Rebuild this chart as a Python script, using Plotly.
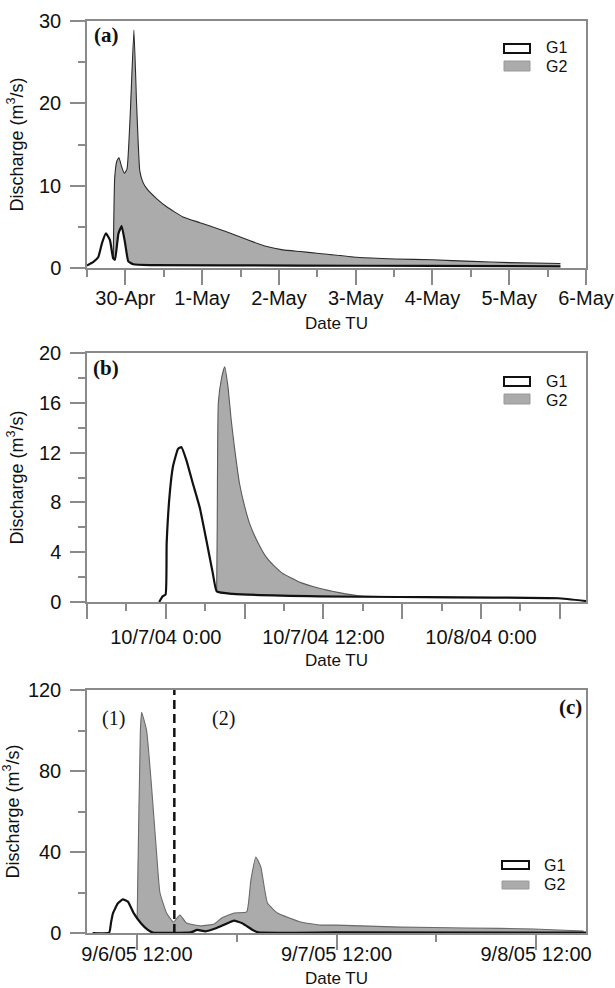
import plotly.graph_objects as go

# ---------------- data ----------------
# Panel (a)
a_g1_time = ["2004-04-29 12:00", "2004-04-29 14:00", "2004-04-29 15:30", "2004-04-29 16:40",
             "2004-04-29 17:55", "2004-04-29 19:10", "2004-04-29 20:10", "2004-04-29 20:45",
             "2004-04-29 21:50", "2004-04-29 22:50", "2004-04-29 23:55", "2004-04-30 00:55",
             "2004-04-30 02:30", "2004-04-30 08:00", "2004-05-02 06:00", "2004-05-04 00:00",
             "2004-05-05 16:00"]
a_g1_q = [0.3, 0.75, 1.3, 3.0, 4.2, 3.4, 1.2, 1.0, 4.2, 5.1, 3.0, 0.8, 0.45, 0.35, 0.3, 0.25, 0.2]

a_g2_time = ["2004-04-29 20:10", "2004-04-29 20:40", "2004-04-29 21:20", "2004-04-29 22:00",
             "2004-04-29 22:40", "2004-04-29 23:40", "2004-04-30 00:30", "2004-04-30 01:30",
             "2004-04-30 02:40", "2004-04-30 03:30", "2004-04-30 04:30", "2004-04-30 05:30",
             "2004-04-30 06:45", "2004-04-30 09:50", "2004-04-30 13:00", "2004-04-30 18:00",
             "2004-04-30 23:20", "2004-05-01 04:40", "2004-05-01 09:40", "2004-05-01 15:00",
             "2004-05-01 20:15", "2004-05-02 01:15", "2004-05-02 06:40", "2004-05-02 11:50",
             "2004-05-03 00:20", "2004-05-03 12:15", "2004-05-04 00:00", "2004-05-04 12:20",
             "2004-05-05 00:10", "2004-05-05 16:00"]
a_g2_q = [0, 11, 13.0, 13.4, 12.5, 11.5, 12.0, 18.5, 28.9, 20.0, 11.8, 10.4, 9.6, 8.4, 7.4, 6.2,
          5.5, 4.8, 4.1, 3.3, 2.6, 2.2, 2.0, 1.8, 1.3, 1.1, 1.0, 0.8, 0.65, 0.55]

# Panel (b)
b_g1_time = ["2004-10-06 23:30", "2004-10-06 23:45", "2004-10-06 23:59", "2004-10-07 00:04",
             "2004-10-07 00:18", "2004-10-07 00:33", "2004-10-07 00:56", "2004-10-07 01:11",
             "2004-10-07 01:34", "2004-10-07 02:04", "2004-10-07 02:35", "2004-10-07 03:05",
             "2004-10-07 03:35", "2004-10-07 03:53", "2004-10-07 05:05", "2004-10-07 11:40",
             "2004-10-07 17:45", "2004-10-08 05:50", "2004-10-08 08:00"]
b_g1_q = [0, 0.45, 0.6, 4.7, 8.7, 10.9, 12.3, 12.45, 11.4, 9.5, 7.6, 5.0, 2.3, 0.85, 0.65, 0.45,
          0.4, 0.3, 0.08]

b_g2_time = ["2004-10-07 03:52", "2004-10-07 03:55", "2004-10-07 04:00", "2004-10-07 04:15",
             "2004-10-07 04:29", "2004-10-07 04:44", "2004-10-07 04:59", "2004-10-07 05:14",
             "2004-10-07 05:37", "2004-10-07 06:00", "2004-10-07 06:23", "2004-10-07 07:00",
             "2004-10-07 07:39", "2004-10-07 08:15", "2004-10-07 08:54", "2004-10-07 10:10",
             "2004-10-07 11:41", "2004-10-07 13:12", "2004-10-07 14:43", "2004-10-07 17:45",
             "2004-10-08 05:50", "2004-10-08 08:00"]
b_g2_q = [0, 6.0, 16.0, 18.0, 18.9, 17.3, 14.6, 12.4, 9.5, 7.7, 6.3, 4.8, 3.6, 2.9, 2.3, 1.6,
          1.1, 0.75, 0.5, 0.42, 0.3, 0.08]

# Panel (c)
c_g1_time = ["2005-09-06 06:40", "2005-09-06 08:40", "2005-09-06 08:53", "2005-09-06 09:07",
             "2005-09-06 09:43", "2005-09-06 10:19", "2005-09-06 10:55", "2005-09-06 11:38",
             "2005-09-06 12:29", "2005-09-06 13:19", "2005-09-06 13:55", "2005-09-06 18:30",
             "2005-09-06 19:15", "2005-09-06 20:15", "2005-09-06 21:30", "2005-09-06 22:40",
             "2005-09-06 23:40", "2005-09-07 00:40", "2005-09-07 01:55", "2005-09-07 02:35",
             "2005-09-07 12:00", "2005-09-08 18:00"]
c_g1_q = [0, 0.2, 5.0, 9.7, 14.7, 16.6, 15.5, 9.7, 4.8, 1.5, 0.2, 0.3, 1.5, 0.8, 2.3, 4.4, 6.1,
          4.8, 1.5, 0.3, 0.3, 0.2]

c_g2_time = ["2005-09-06 12:00", "2005-09-06 12:05", "2005-09-06 12:25", "2005-09-06 12:34",
             "2005-09-06 13:10", "2005-09-06 13:46", "2005-09-06 14:22", "2005-09-06 14:46",
             "2005-09-06 15:34", "2005-09-06 16:24", "2005-09-06 17:10", "2005-09-06 17:58",
             "2005-09-06 19:42", "2005-09-06 21:18", "2005-09-06 22:12", "2005-09-06 23:42",
             "2005-09-07 01:12", "2005-09-07 01:42", "2005-09-07 02:18", "2005-09-07 02:54",
             "2005-09-07 03:42", "2005-09-07 04:54", "2005-09-07 07:42", "2005-09-07 10:06",
             "2005-09-07 12:00", "2005-09-07 19:42", "2005-09-08 03:42", "2005-09-08 11:42",
             "2005-09-08 17:42"]
c_g2_q = [0, 20, 100, 109, 100, 72, 39.5, 20, 9.9, 5.4, 8.9, 4.9, 3.5, 4.5, 7.4, 9.9, 10.4, 26,
          37.5, 32.6, 14.8, 9.9, 5.4, 3.9, 3.9, 2.9, 2.5, 2.0, 1.0]

c_split_time = "2005-09-06 16:30"   # dashed separator between events (1) and (2)

series_names = ["G1", "G2"]
panel_labels = ["(a)", "(b)", "(c)"]
event_labels = ["(1)", "(2)"]
y_title = "Discharge (m<sup>3</sup>/s)"
x_title = "Date TU"

# ---------------- styling ----------------
W, H = 615, 988
GRAY_FILL = "#ababab"
AX_COL = "#8a8a8a"
SANS = "Arial, Liberation Sans, Helvetica, sans-serif"
SERIF = "Times New Roman, Liberation Serif, serif"


def px(xp):
    return xp / W


def py(yp):
    return 1 - yp / H


X_LEFT, X_RIGHT = 87, 586
panels = [(21, 268), (353, 602), (690, 933)]

fig = go.Figure()

data = [
    (a_g1_time, a_g1_q, a_g2_time, a_g2_q, "#2a2a2a"),
    (b_g1_time, b_g1_q, b_g2_time, b_g2_q, "#5a5a5a"),
    (c_g1_time, c_g1_q, c_g2_time, c_g2_q, "#6a6a6a"),
]
for i, (t1, q1, t2, q2, g2line) in enumerate(data):
    sfx = "" if i == 0 else str(i + 1)
    fig.add_trace(go.Scatter(x=t2, y=q2, mode="lines", name=series_names[1], fill="tozeroy",
                             fillcolor=GRAY_FILL, line=dict(color=g2line, width=1.1, shape="spline",
                                                            smoothing=0.4),
                             xaxis="x" + sfx, yaxis="y" + sfx, showlegend=False))
    fig.add_trace(go.Scatter(x=t1, y=q1, mode="lines", name=series_names[0], fill="tozeroy",
                             fillcolor="white", line=dict(color="#111", width=2.2, shape="spline",
                                                          smoothing=0.4),
                             xaxis="x" + sfx, yaxis="y" + sfx, showlegend=False))

common = dict(showline=True, linecolor=AX_COL, linewidth=1.5, mirror=True, ticks="outside",
              tickcolor=AX_COL, tickwidth=1.5, ticklen=15, showgrid=False, zeroline=False,
              automargin=False, tickfont=dict(family=SANS, size=20, color="#111"))
minor = dict(ticks="outside", ticklen=7, tickcolor=AX_COL, tickwidth=1.5, showgrid=False)

layout = dict(template="none", width=W, height=H, margin=dict(l=0, r=0, t=0, b=0, pad=0),
              paper_bgcolor="white", plot_bgcolor="white", showlegend=False)

xcfg = [
    dict(range=["2004-04-29 12:00", "2004-05-06 00:00"], tick0="2004-04-30", dtick=86400000,
         tickformat="%-d-%b", minor=dict(minor, dtick=43200000, tick0="2004-04-29 12:00"),
         ticklabelstandoff=-4),
    dict(range=["2004-10-06 18:00", "2004-10-08 08:00"], tick0="2004-10-07", dtick=21600000,
         ticklabelstep=2, tickformat="%-m/%-d/%y %-H:%M",
         minor=dict(minor, dtick=10800000, tick0="2004-10-06 18:00"),
         ticklabelstandoff=1),
    dict(range=["2005-09-06 06:00", "2005-09-08 18:00"], tick0="2005-09-06 12:00", dtick=86400000,
         tickformat="%-m/%-d/%y %H:%M", minor=dict(minor, dtick=43200000, tick0="2005-09-06 00:00"),
         ticklabelstandoff=-13),
]
x_title_standoff = [9, 7, 10]
ycfg = [
    dict(range=[0, 30], dtick=10, minor=dict(minor, dtick=5)),
    dict(range=[0, 20], dtick=4, minor=dict(minor, dtick=2)),
    dict(range=[0, 120], dtick=40, minor=dict(minor, dtick=20)),
]

for i, (top, bot) in enumerate(panels):
    sfx = "" if i == 0 else str(i + 1)
    layout["xaxis" + sfx] = dict(common, type="date", domain=[px(X_LEFT), px(X_RIGHT)],
                                 anchor="y" + sfx,
                                 title=dict(text=x_title, font=dict(family=SANS, size=17, color="#111"),
                                            standoff=x_title_standoff[i]),
                                 **xcfg[i])
    layout["yaxis" + sfx] = dict(common, domain=[py(bot), py(top)], anchor="x" + sfx,
                                 ticklabelstandoff=5,
                                 title=dict(text=y_title, font=dict(family=SANS, size=18, color="#111"),
                                            standoff=11),
                                 **ycfg[i])

fig.update_layout(**layout)

# separator line in (c)
fig.add_shape(type="line", xref="x3", yref="y3 domain", x0=c_split_time, x1=c_split_time,
              y0=0, y1=1, line=dict(color="#111", width=2.5, dash="9px,5px"))

annotations = []
# panel labels
for (lab, xp, yp, anchor) in [(panel_labels[0], 92, 35, "left"), (panel_labels[1], 91, 368, "left"),
                              (panel_labels[2], 584, 707, "right")]:
    annotations.append(dict(text="<b>" + lab + "</b>", x=px(xp), y=py(yp), xref="paper", yref="paper",
                            xanchor=anchor, yanchor="middle", showarrow=False,
                            font=dict(family=SERIF, size=21, color="#111")))
for (lab, xp) in [(event_labels[0], 113), (event_labels[1], 223)]:
    annotations.append(dict(text=lab, x=px(xp), y=py(718), xref="paper", yref="paper",
                            xanchor="center", yanchor="middle", showarrow=False,
                            font=dict(family=SERIF, size=20, color="#111")))

# legends (boxes + labels); labels stacked so their boxes just touch
legend_pos = [((44, 53), (61, 71), 504, 530, 545, 57.5),
              ((377, 386), (394, 404), 504, 530, 545, 390.5),
              ((861, 869), (881, 889), 502, 529, 543, 875)]
for (g1b, g2b, bx0, bx1, tx, tmid) in legend_pos:
    fig.add_shape(type="rect", xref="paper", yref="paper", x0=px(bx0), x1=px(bx1),
                  y0=py(g1b[1]), y1=py(g1b[0]), fillcolor="white", line=dict(color="#111", width=2))
    fig.add_shape(type="rect", xref="paper", yref="paper", x0=px(bx0), x1=px(bx1),
                  y0=py(g2b[1]), y1=py(g2b[0]), fillcolor=GRAY_FILL, line=dict(color="#999", width=1))
    for lab, ya in [(series_names[0], "bottom"), (series_names[1], "top")]:
        annotations.append(dict(text=lab, x=px(tx), y=py(tmid), xref="paper", yref="paper",
                                xanchor="left", yanchor=ya, showarrow=False, borderpad=0,
                                font=dict(family=SANS, size=16, color="#111")))

fig.update_layout(annotations=annotations)
fig.write_html("out.html", config={"displayModeBar": False},
               post_script="document.body.style.margin='0';")
